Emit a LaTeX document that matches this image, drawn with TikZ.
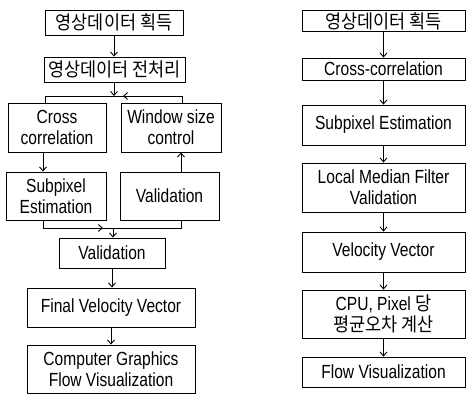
\documentclass[tikz,border=0pt]{standalone}
\usepackage{fontspec}
\setmainfont{Liberation Sans}[FakeStretch=0.82]
\newfontfamily\kr{Noto Sans CJK KR}[FakeStretch=0.92]
\usetikzlibrary{arrows.meta}
\begin{document}
\begin{tikzpicture}[x=1pt,y=-1pt,
  box/.style={draw, line width=0.9pt, inner sep=0pt, align=center,
    font=\fontsize{19}{21}\selectfont},
  flow/.style={line width=0.9pt, -{Straight Barb[length=4pt,width=7pt]}},
  link/.style={line width=0.9pt}]
\useasboundingbox (0,0) rectangle (467,400);

% ---- left flow chart ----
\node[box, minimum width=138pt, minimum height=25pt] (a1) at (114,22.5) {\kr 영상데이터 획득};
\node[box, minimum width=141pt, minimum height=25pt] (a2) at (114.5,69.5) {\kr 영상데이터 전처리};
\node[box, minimum width=98pt, minimum height=49pt] (a3) at (57,127.5) {Cross\\correlation};
\node[box, minimum width=100pt, minimum height=49pt] (a4) at (171,127.5) {Window size\\control};
\node[box, minimum width=100pt, minimum height=48pt] (a5) at (56,196) {Subpixel\\Estimation};
\node[box, minimum width=99pt, minimum height=48pt] (a6) at (169.5,196) {Validation};
\node[box, minimum width=106pt, minimum height=30pt] (a7) at (112,253) {Validation};
\node[box, minimum width=168pt, minimum height=39pt] (a8) at (111,307.5) {Final Velocity Vector};
\node[box, minimum width=168pt, minimum height=48pt] (a9) at (111,369) {Computer Graphics\\Flow Visualization};

% junction points
\coordinate (jt) at (114,96);
\coordinate (jl) at (45,96);
\coordinate (jr) at (182,96);
\coordinate (jm) at (123,96);
\coordinate (cl) at (43,0);
\coordinate (cr) at (181,0);
\coordinate (m) at (113,228);
\coordinate (ma) at (103,228);

\draw[flow] (a1.south) -- (a1.south |- a2.north);
\draw[flow] (a2.south -| jt) -- (jt);
\draw[link] (a3.north -| jl) -- (jl) -- (jr) -- (a4.north -| jr);
\draw[flow] (jr) -- (jm);
\draw[flow] (a3.south -| cl) -- (a5.north -| cl);
\draw[flow] (a6.north -| cr) -- (a4.south -| cr);
\draw[link] (a5.south -| cl) |- (m);
\draw[flow] (a5.south -| cl) |- (ma);
\draw[link] (a6.south -| cr) |- (m);
\draw[flow] (m) -- (a7.north -| m);
\draw[flow] (a7.south) -- (a7.south |- a8.north);
\draw[flow] (a8.south) -- (a8.south |- a9.north);

% ---- right flow chart ----
\node[box, minimum width=163pt, minimum height=21pt] (b1) at (383.5,21) {\kr 영상데이터 획득};
\node[box, minimum width=163pt, minimum height=22pt] (b2) at (383.5,69) {Cross-correlation};
\node[box, minimum width=163pt, minimum height=40pt] (b3) at (383.5,125) {Subpixel Estimation};
\node[box, minimum width=163pt, minimum height=49pt] (b4) at (383.5,187.5) {Local Median Filter\\Validation};
\node[box, minimum width=163pt, minimum height=40pt] (b5) at (383.5,252) {Velocity Vector};
\node[box, minimum width=163pt, minimum height=48pt] (b6) at (383.5,314) {CPU, Pixel {\kr 당}\\{\kr 평균오차 계산}};
\node[box, minimum width=163pt, minimum height=30pt] (b7) at (383.5,372) {Flow Visualization};

\draw[flow] (b1) -- (b2);
\draw[flow] (b2) -- (b3);
\draw[flow] (b3) -- (b4);
\draw[flow] (b4) -- (b5);
\draw[flow] (b5) -- (b6);
\draw[flow] (b6) -- (b7);
\end{tikzpicture}
\end{document}
